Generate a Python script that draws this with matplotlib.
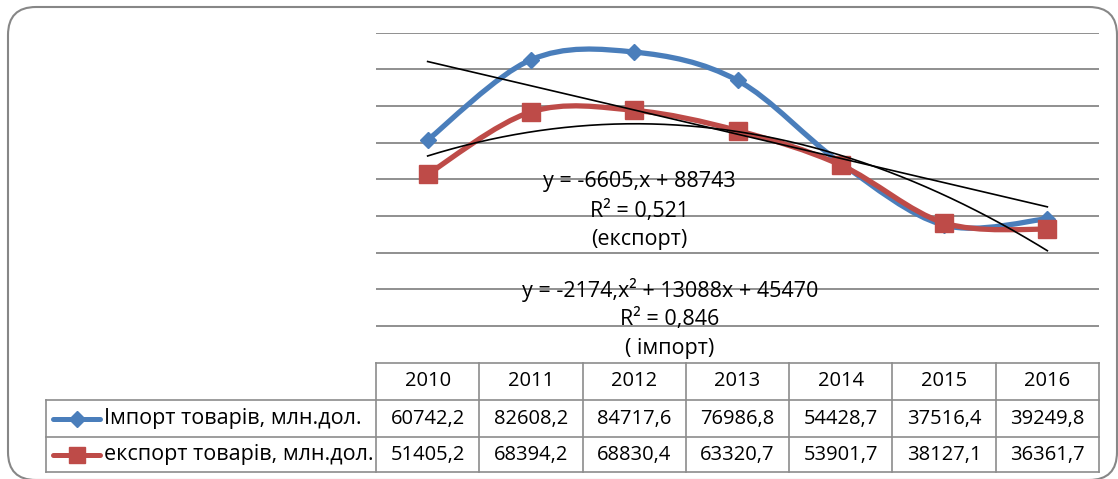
import numpy as np
import matplotlib
matplotlib.use("Agg")
import matplotlib.pyplot as plt
from matplotlib.path import Path
from matplotlib.patches import PathPatch, FancyBboxPatch
from matplotlib.lines import Line2D
from matplotlib.transforms import Affine2D, blended_transform_factory

plt.rcParams['font.family'] = ['Open Sans', 'DejaVu Sans']

# ---------------- data ----------------
years = ["2010", "2011", "2012", "2013", "2014", "2015", "2016"]
import_vals = [60742.2, 82608.2, 84717.6, 76986.8, 54428.7, 37516.4, 39249.8]
export_vals = [51405.2, 68394.2, 68830.4, 63320.7, 53901.7, 38127.1, 36361.7]
import_labels = ["60742,2", "82608,2", "84717,6", "76986,8", "54428,7", "37516,4", "39249,8"]
export_labels = ["51405,2", "68394,2", "68830,4", "63320,7", "53901,7", "38127,1", "36361,7"]
series_names = ["Імпорт товарів, млн.дол.", "експорт товарів, млн.дол."]
eq_linear = ["y = -6605,x + 88743", "R² = 0,521", "(експорт)"]
eq_quad = ["y = -2174,x² + 13088x + 45470", "R² = 0,846", "( імпорт)"]

BLUE = "#4A7EBB"
RED = "#BE4B48"
GRID = "#878787"
BORDER = "#8C8C8C"

W, H = 1118, 479
fig = plt.figure(figsize=(W / 100, H / 100), dpi=100)
# pixel transform (x from left, y from top)
pix = Affine2D().scale(1 / W, -1 / H).translate(0, 1) + fig.transFigure

# outer rounded border
frame = FancyBboxPatch((8, 7), 1109, 473, boxstyle="round,pad=0,rounding_size=28",
                       transform=pix, facecolor="none", edgecolor=GRID, lw=1.5,
                       zorder=-5)
fig.patches.append(frame)

# plot area
L, R, T, B = 376, 1099, 32.7, 362.7
ax = fig.add_axes([L / W, 1 - B / H, (R - L) / W, (B - T) / H])
ax.set_zorder(2)
ax.set_facecolor("none")
n = len(years)
xs = np.arange(n)
ax.set_xlim(-0.5, n - 0.5)
ax.set_ylim(0, 90000)
ax.set_yticks(np.arange(10000, 90001, 10000))
ax.yaxis.grid(True, color=GRID, lw=1.3)
ax.set_axisbelow(True)
ax.tick_params(left=False, bottom=False, labelleft=False, labelbottom=False)
for s in ax.spines.values():
    s.set_visible(False)


def smooth_path(x, y):
    pts = np.column_stack([x, y]).astype(float)
    ext = np.vstack([pts[0], pts, pts[-1]])
    verts = [pts[0]]
    codes = [Path.MOVETO]
    for i in range(len(pts) - 1):
        p0, p1, p2, p3 = ext[i], ext[i + 1], ext[i + 2], ext[i + 3]
        c1 = p1 + (p2 - p0) / 6.0
        c2 = p2 - (p3 - p1) / 6.0
        verts += [c1, c2, p2]
        codes += [Path.CURVE4] * 3
    return Path(verts, codes)


ax.add_patch(PathPatch(smooth_path(xs, import_vals), facecolor="none",
                       edgecolor=BLUE, lw=3.8, capstyle="round", joinstyle="round", zorder=3))
ax.plot(xs, import_vals, linestyle="none", marker="D", ms=8.0, color=BLUE,
        markeredgecolor=BLUE, zorder=4)
ax.add_patch(PathPatch(smooth_path(xs, export_vals), facecolor="none",
                       edgecolor=RED, lw=3.8, capstyle="round", joinstyle="round", zorder=5))
ax.plot(xs, export_vals, linestyle="none", marker="s", ms=13.5, color=RED,
        markeredgecolor=RED, zorder=6)

# trendlines (least-squares fits, x = 1..7)
xt = np.arange(1, n + 1)
lin = np.polyfit(xt, import_vals, 1)
quad = np.polyfit(xt, export_vals, 2)
xf = np.linspace(1, n, 200)
ax.plot(xf - 1, np.polyval(lin, xf), color="black", lw=1.2, zorder=7)
ax.plot(xf - 1, np.polyval(quad, xf), color="black", lw=1.2, zorder=7)

# trendline labels
fs_eq = 15.5
for i, t in enumerate(eq_linear):
    fig.text(639, 181 + i * 29.5, t, transform=pix, ha="center", va="center",
             fontsize=fs_eq, color="black", zorder=10)
for i, t in enumerate(eq_quad):
    fig.text(670, 290 + i * 29.5, t, transform=pix, ha="center", va="center",
             fontsize=fs_eq, color="black", zorder=10)

# ---------------- data table ----------------
rows_y = [362.7, 400, 437.3, 472]
left_px = 46
tb = blended_transform_factory(ax.transData, pix)
lw_t = 1.2
fig.add_artist(Line2D([-0.5, n - 0.5], [rows_y[0]] * 2, transform=tb, color=BORDER, lw=lw_t))
for yv in rows_y[1:]:
    fig.add_artist(Line2D([left_px, R], [yv, yv], transform=pix, color=BORDER, lw=lw_t))
for k in range(n + 1):
    fig.add_artist(Line2D([k - 0.5, k - 0.5], [rows_y[0], rows_y[3]], transform=tb,
                          color=BORDER, lw=lw_t))
fig.add_artist(Line2D([left_px, left_px], [rows_y[1], rows_y[3]], transform=pix,
                      color=BORDER, lw=lw_t))

fs_t = 14.5
for k in range(n):
    yc = [(rows_y[j] + rows_y[j + 1]) / 2 for j in range(3)]
    fig.text(0, 0, years[k], transform=tb, fontsize=fs_t, ha="center", va="center").set_position((k, yc[0]))
    fig.text(0, 0, import_labels[k], transform=tb, fontsize=fs_t, ha="center", va="center").set_position((k, yc[1]))
    fig.text(0, 0, export_labels[k], transform=tb, fontsize=fs_t, ha="center", va="center").set_position((k, yc[2]))

# legend keys in table
for j, (name, col, mk, ms) in enumerate([(series_names[0], BLUE, "D", 8.0),
                                          (series_names[1], RED, "s", 12.0)]):
    yc = (rows_y[j + 1] + rows_y[j + 2]) / 2
    fig.add_artist(Line2D([53, 100], [yc, yc], transform=pix, color=col, lw=3.6,
                          solid_capstyle="round"))
    fig.add_artist(Line2D([76.5], [yc], transform=pix, color=col, marker=mk, ms=ms,
                          linestyle="none"))
    fig.text(104, yc, name, transform=pix, fontsize=15.5, ha="left", va="center")

fig.savefig("out.png", dpi=100)
